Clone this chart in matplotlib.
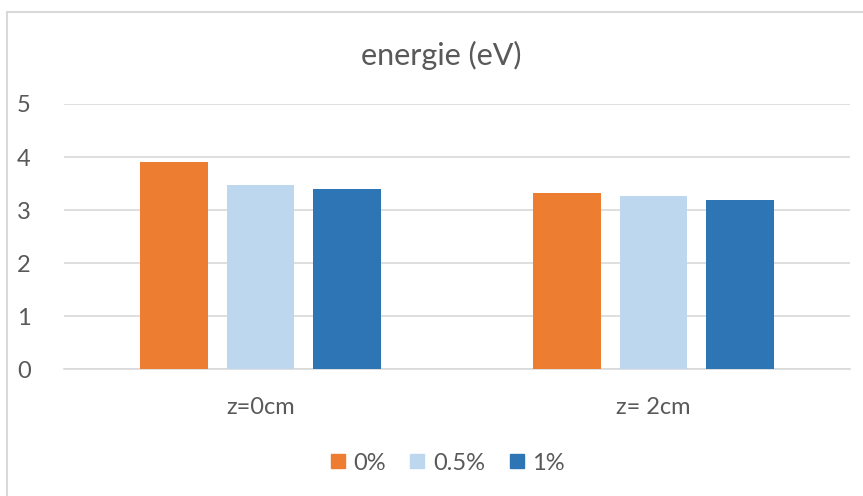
import matplotlib
matplotlib.use("Agg")
import matplotlib.pyplot as plt
import numpy as np
from matplotlib.lines import Line2D

categories = ["z=0cm", "z= 2cm"]
series_names = ["0%", "0.5%", "1%"]
values_0 = [3.90, 3.33]
values_05 = [3.48, 3.26]
values_1 = [3.39, 3.20]
yticks = [0, 1, 2, 3, 4, 5]
title = "energie (eV)"

colors = ["#ED7D31", "#BDD7EE", "#2E75B6"]
text_color = "#595959"
plt.rcParams['font.family'] = ['Lato', 'DejaVu Sans']

W, H = 863, 496
fig = plt.figure(figsize=(W / 100, H / 100), dpi=100)
ax = fig.add_axes([64 / W, 1 - 369.3 / H, (850 - 64) / W, (369.3 - 104) / H])

x = np.arange(len(categories))
step = 0.221
width = 0.173
all_vals = [values_0, values_05, values_1]
for i, (vals, c, name) in enumerate(zip(all_vals, colors, series_names)):
    ax.bar(x + (i - 1) * step, vals, width=width, color=c, label=name, zorder=3)

ax.set_xlim(-0.5, 1.5)
ax.set_ylim(0, 5)
ax.set_yticks(yticks)
ax.yaxis.grid(True, color="#D9D9D9", linewidth=1.2, zorder=0)
ax.set_axisbelow(True)
for s in ["top", "right", "left"]:
    ax.spines[s].set_visible(False)
ax.spines["bottom"].set_color("#D9D9D9")
ax.spines["bottom"].set_linewidth(1.2)
ax.tick_params(axis="both", length=0, labelsize=17, colors=text_color)
ax.tick_params(axis="y", pad=24)
ax.tick_params(axis="x", pad=20)
ax.set_xticks(x)
ax.set_xticklabels(categories)

fig.text(441 / W, 1 - 55 / H, title, ha="center", va="center", fontsize=22, color=text_color)

handles = [Line2D([0], [0], marker="s", linestyle="none", markersize=10,
                  markerfacecolor=c, markeredgecolor=c) for c in colors]
fig.legend(handles, series_names, loc="center", bbox_to_anchor=(447 / W, 1 - 463 / H),
           ncol=3, frameon=False, fontsize=17, labelcolor=text_color,
           handlelength=0.7, handletextpad=0.3, columnspacing=1.0)

# chart border
fig.add_artist(Line2D([7 / W, 7 / W], [0, 1 - 12 / H], color="#D9D9D9", linewidth=1.5,
                      transform=fig.transFigure))
fig.add_artist(Line2D([7 / W, 1], [1 - 12 / H, 1 - 12 / H], color="#D9D9D9", linewidth=1.5,
                      transform=fig.transFigure))

fig.savefig("out.png", dpi=100)
